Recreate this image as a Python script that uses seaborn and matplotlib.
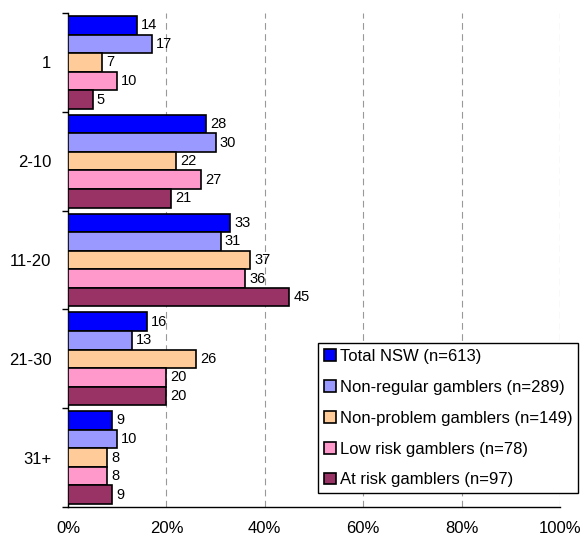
import matplotlib
matplotlib.use("Agg")
import matplotlib.pyplot as plt
import seaborn as sns
import pandas as pd
import numpy as np
from matplotlib.ticker import FixedLocator, FuncFormatter

categories = ["1", "2-10", "11-20", "21-30", "31+"]
series = [
    "Total NSW (n=613)",
    "Non-regular gamblers (n=289)",
    "Non-problem gamblers (n=149)",
    "Low risk gamblers (n=78)",
    "At risk gamblers (n=97)",
]
total_nsw = [14, 28, 33, 16, 9]
non_regular = [17, 30, 31, 13, 10]
non_problem = [7, 22, 37, 26, 8]
low_risk = [10, 27, 36, 20, 8]
at_risk = [5, 21, 45, 20, 9]
colors = ["#0000FF", "#9999FF", "#FFCC99", "#FF99CC", "#993366"]

values = [total_nsw, non_regular, non_problem, low_risk, at_risk]
rows = []
for s, vals in zip(series, values):
    for c, v in zip(categories, vals):
        rows.append({"category": c, "series": s, "value": v})
df = pd.DataFrame(rows)

sns.set_style("white")
plt.rcParams["font.family"] = ["Liberation Sans", "DejaVu Sans"]
plt.rcParams["text.color"] = "black"
plt.rcParams["xtick.color"] = "black"
plt.rcParams["ytick.color"] = "black"
plt.rcParams["axes.labelcolor"] = "black"

fig = plt.figure(figsize=(5.87, 5.40), dpi=100)
ax = fig.add_axes([0.1158, 0.0611, 0.954 - 0.1158, 0.976 - 0.0611])

sns.barplot(
    data=df, y="category", x="value", hue="series", order=categories,
    hue_order=series, palette=colors, orient="h", width=0.94,
    edgecolor="black", linewidth=1.2, saturation=1, ax=ax, zorder=3,
)

for container in ax.containers:
    ax.bar_label(container, fmt="%d", padding=3, fontsize=10.5, color="black")

ax.set_xlim(0, 100)
ax.set_ylim(len(categories) - 0.5, -0.5)
ax.set_xticks(np.arange(0, 101, 20))
ax.xaxis.set_major_formatter(FuncFormatter(lambda v, p: f"{int(v)}%"))
ax.tick_params(axis="x", direction="out", length=4, width=1, labelsize=12, pad=6,
               color="black", labelcolor="black")

# category boundaries get the tick marks, centres carry the labels
ax.yaxis.set_major_locator(FixedLocator(np.arange(-0.5, len(categories), 1)))
ax.yaxis.set_major_formatter(FuncFormatter(lambda v, p: ""))
ax.yaxis.set_minor_locator(FixedLocator(np.arange(len(categories))))
ax.set_yticklabels(categories, minor=True)
ax.tick_params(axis="y", which="major", direction="out", length=4, width=1, color="black", left=True)
ax.tick_params(axis="y", which="minor", length=0, labelsize=12, pad=12, labelcolor="black")

for x in range(20, 101, 20):
    ax.axvline(x, color="#999999", linestyle=(0, (6, 4)), linewidth=0.8, zorder=1)

for side in ["top", "right"]:
    ax.spines[side].set_visible(False)
for side in ["left", "bottom"]:
    ax.spines[side].set_color("black")
    ax.spines[side].set_linewidth(1)

ax.set_xlabel("")
ax.set_ylabel("")

leg = ax.legend(
    loc="lower right", bbox_to_anchor=(1.037, 0.028), frameon=True, fancybox=False,
    edgecolor="black", fontsize=12, handlelength=0.7, handleheight=0.7,
    handletextpad=0.25, labelspacing=0.95, borderpad=0.35, borderaxespad=0,
    framealpha=1,
)
leg.get_frame().set_linewidth(1)
for t in leg.get_texts():
    t.set_color("black")

fig.savefig("out.png", dpi=100)
